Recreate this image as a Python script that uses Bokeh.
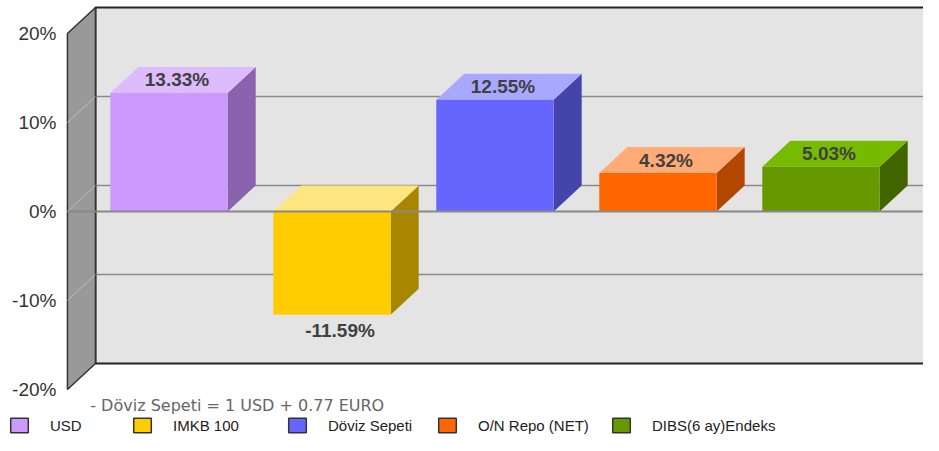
from bokeh.plotting import figure
from bokeh.models import Range1d, Legend, LegendItem, Label
from bokeh.embed import file_html
from bokeh.resources import INLINE
from bokeh.core.properties import value

# ---- data ----
categories = ["USD", "IMKB 100", "Döviz Sepeti", "O/N Repo (NET)", "DIBS(6 ay)Endeks"]
values = [13.33, -11.59, 12.55, 4.32, 5.03]
value_labels = ["13.33%", "-11.59%", "12.55%", "4.32%", "5.03%"]
front_colors = ["#cc99ff", "#ffcc00", "#6666ff", "#ff6600", "#669900"]
top_colors = ["#dcbcfc", "#fde57f", "#a8a8ff", "#ffab78", "#77bb00"]
side_colors = ["#8a62ae", "#a88600", "#4444aa", "#b34700", "#416600"]
y_ticks = [-20, -10, 0, 10, 20]
y_tick_labels = ["-20%", "-10%", "0%", "10%", "20%"]
footnote = "- Döviz Sepeti = 1 USD + 0.77 EURO"

# ---- style / geometry constants ----
W, H = 923, 435
PX_PER_UNIT = 8.9          # pixels per percent
BAR_W = 0.72               # bar width in category units
DX = 0.172                 # 3D depth offset (x units)
DY = 2.92                  # 3D depth offset (y units, percent)
PAD = 0.623                # wall extent beyond first/last category
LEGEND_X = [8, 131, 286, 436, 610]   # legend item positions (px)
Y_MIN, Y_MAX = y_ticks[0], y_ticks[-1]

n = len(values)
wx0 = -PAD
wx1 = (n - 1) + PAD
X_START, X_END = -1.0337, 4.629
Y_TOP = 23.71
Y_BOTTOM = Y_TOP - H / PX_PER_UNIT

p = figure(width=W, height=H,
           x_range=Range1d(X_START, X_END), y_range=Range1d(Y_BOTTOM, Y_TOP),
           output_backend="svg", toolbar_location=None,
           x_axis_location=None, y_axis_location=None,
           min_border_left=0, min_border_right=0,
           min_border_top=0, min_border_bottom=0)
p.grid.visible = False
p.outline_line_color = None
p.background_fill_color = "white"
p.border_fill_color = "white"

# back wall
p.quad(left=[wx0 + DX], right=[X_END + 1], bottom=[Y_MIN + DY], top=[Y_MAX + DY],
       fill_color="#e4e4e4", line_color="#222222", line_width=2)
# back gridlines
inner = [t for t in y_ticks if Y_MIN < t < Y_MAX]
p.segment(x0=[wx0 + DX] * len(inner), y0=[t + DY for t in inner],
          x1=[X_END + 1] * len(inner), y1=[t + DY for t in inner],
          line_color="#8a8a8a", line_width=1.6)
# side wall
p.patch([wx0, wx0 + DX, wx0 + DX, wx0], [Y_MAX, Y_MAX + DY, Y_MIN + DY, Y_MIN],
        fill_color="#999999", line_color="#333333", line_width=1.5)
p.segment(x0=[wx0] * len(inner), y0=inner,
          x1=[wx0 + DX] * len(inner), y1=[t + DY for t in inner],
          line_color="#bdbdbd", line_width=1)

# y tick labels (front edge of the 3D axis wall)
p.text(x=[wx0] * len(y_ticks), y=y_ticks, text=y_tick_labels,
       text_font=value("Liberation Sans"), text_font_size="19px",
       text_color="#333333", text_align="right", text_baseline="middle",
       x_offset=-11)

# bars
lefts = [i - BAR_W / 2 for i in range(n)]
rights = [i + BAR_W / 2 for i in range(n)]
los = [min(0, v) for v in values]
his = [max(0, v) for v in values]

p.patches(xs=[[r, r, r + DX, r + DX] for r in rights],
          ys=[[lo, hi, hi + DY, lo + DY] for lo, hi in zip(los, his)],
          fill_color=side_colors, line_color=None)
p.patches(xs=[[l, l + DX, r + DX, r] for l, r in zip(lefts, rights)],
          ys=[[hi, hi + DY, hi + DY, hi] for hi in his],
          fill_color=top_colors, line_color=None)
p.quad(left=lefts, right=rights, bottom=los, top=his,
       fill_color=front_colors, line_color=None)

# front zero line
p.segment(x0=[wx0], y0=[0], x1=[wx1], y1=[0], line_color="#888888", line_width=2)

# value labels
pos_idx = [i for i, v in enumerate(values) if v >= 0]
neg_idx = [i for i, v in enumerate(values) if v < 0]
p.text(x=pos_idx, y=[values[i] + DY / 2 for i in pos_idx],
       text=[value_labels[i] for i in pos_idx],
       text_font=value("Liberation Sans"), text_font_style="bold",
       text_font_size="19px", text_color="#404040",
       text_align="center", text_baseline="middle", x_offset=8)
p.text(x=neg_idx, y=[values[i] for i in neg_idx],
       text=[value_labels[i] for i in neg_idx],
       text_font=value("Liberation Sans"), text_font_style="bold",
       text_font_size="19px", text_color="#404040",
       text_align="center", text_baseline="top", x_offset=8, y_offset=5)

# footnote
p.add_layout(Label(x=wx0 + 0.14, y=Y_MIN - 1.8, text=footnote,
                   text_font="DejaVu Sans", text_font_size="16px",
                   text_color="#666666", text_baseline="middle"))

# legend (one small legend per item, placed like the original)
nan = float("nan")
for cat, fc, lx in zip(categories, front_colors, LEGEND_X):
    r = p.quad(left=[nan], right=[nan], top=[nan], bottom=[nan], fill_color=fc,
               line_color="#333333", line_width=1.5)
    lg = Legend(items=[LegendItem(label=cat, renderers=[r])],
                location=(lx, 1), glyph_width=22, glyph_height=18,
                label_standoff=20, padding=0, margin=0,
                border_line_color=None, background_fill_alpha=0,
                label_text_font="Liberation Sans", label_text_font_size="15px",
                label_text_color="#222222")
    p.add_layout(lg)

open("out.html", "w").write(file_html(p, INLINE))
